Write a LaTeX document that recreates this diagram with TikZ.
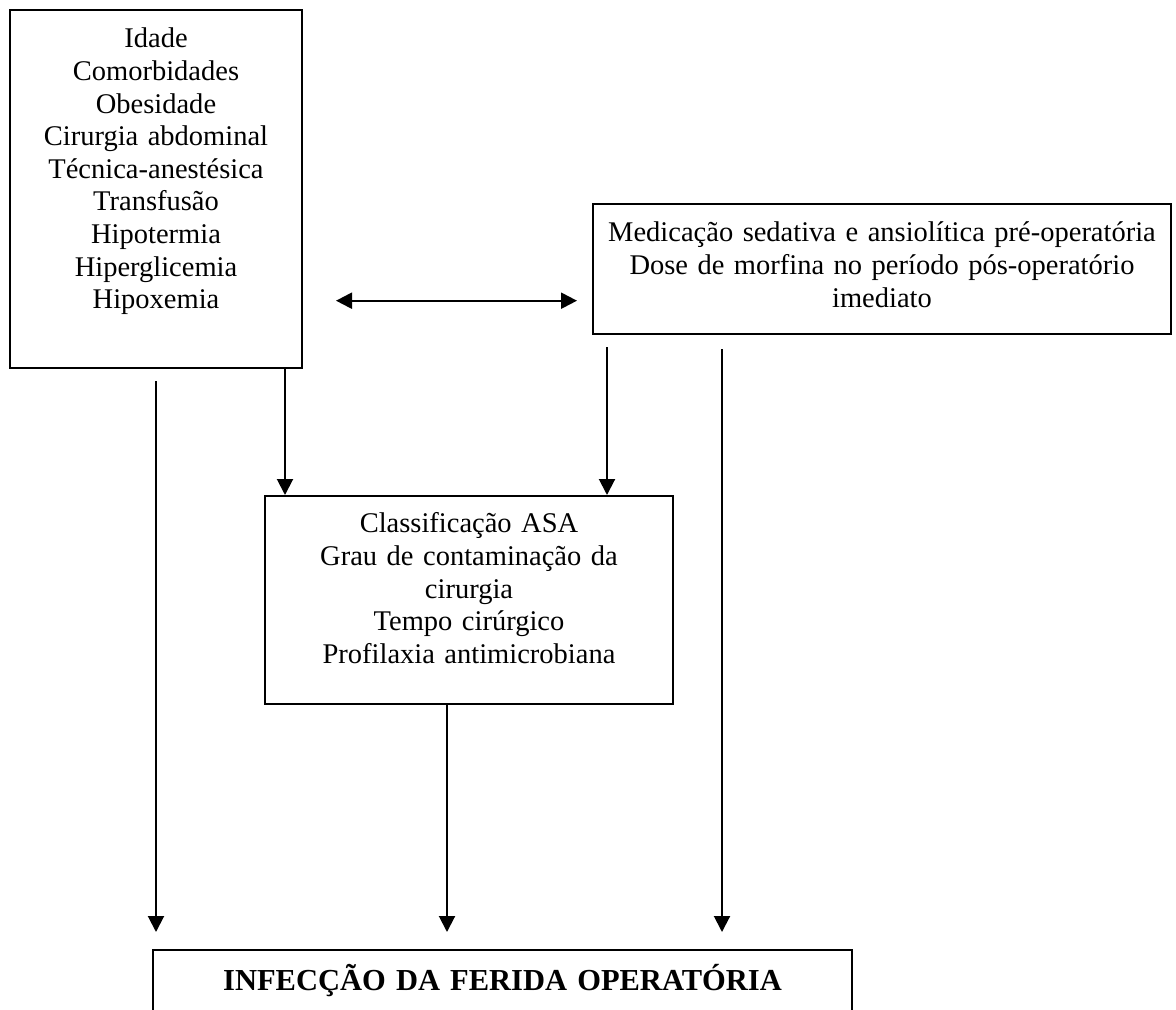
\documentclass[tikz,border=0pt]{standalone}
\usepackage{fontspec}
\setmainfont{Liberation Serif}
\usetikzlibrary{arrows.meta}
\begin{document}
\begin{tikzpicture}[x=0.5pt,y=-0.5pt,
  box/.style={draw, line width=0.95pt, inner sep=0pt, align=center, anchor=north,
    font=\fontsize{14.25}{16.3}\selectfont},
  arr/.style={line width=1pt, -{Triangle[length=8pt,width=8pt]}},
  darr/.style={line width=1.1pt, {Triangle[length=8pt,width=8pt]}-{Triangle[length=8pt,width=8pt]}}]
\useasboundingbox (0,0) rectangle (1176,1010);
\fill[white] (0,0) rectangle (1176,1010);
\clip (0,0) rectangle (1176,1010);

\node[box, text width=146pt] (b1) at (156,9)
  {\rule{0pt}{19pt}Idade\\Comorbidades\\Obesidade\\Cirurgia abdominal\\T\'ecnica-anest\'esica\\Transfus\~ao\\Hipotermia\\Hiperglicemia\\Hipoxemia\rule[-29.6pt]{0pt}{29.6pt}};

\node[box, text width=289pt] (b3) at (882,203)
  {\rule{0pt}{19pt}Medicação sedativa e ansiolítica pré-operatória\\Dose de morfina no período pós-operatório\\imediato\rule[-13.5pt]{0pt}{13.5pt}};

\node[box, text width=204pt] (b2) at (469,495)
  {\rule{0pt}{18.5pt}Classificação ASA\\Grau de contaminação da\\cirurgia\\Tempo cirúrgico\\Profilaxia antimicrobiana\rule[-20.3pt]{0pt}{20.3pt}};

\node[box, text width=349.5pt, line width=1.2pt, font=\fontsize{15.25}{18}\selectfont\bfseries] (t) at (502.5,949)
  {\rule{0pt}{20pt}INFECÇÃO DA FERIDA OPERATÓRIA\rule[-40pt]{0pt}{40pt}};

\coordinate (xa) at (285,0);
\coordinate (r1s) at (607,347);
\coordinate (r2s) at (722,349);
\coordinate (r2e) at (722,932);
\coordinate (ls) at (156,381);
\coordinate (le) at (156,932);
\coordinate (be) at (447,932);
\coordinate (dl) at (336,300.7);
\coordinate (dr) at (577,300.7);

\draw[arr] (b1.south -| xa) -- (b2.north -| xa);
\draw[arr] (r1s) -- (b2.north -| r1s);
\draw[arr] (r2s) -- (r2e);
\draw[arr] (ls) -- (le);
\draw[arr] (b2.south -| be) -- (be);
\draw[darr] (dl) -- (dr);
\end{tikzpicture}
\end{document}
